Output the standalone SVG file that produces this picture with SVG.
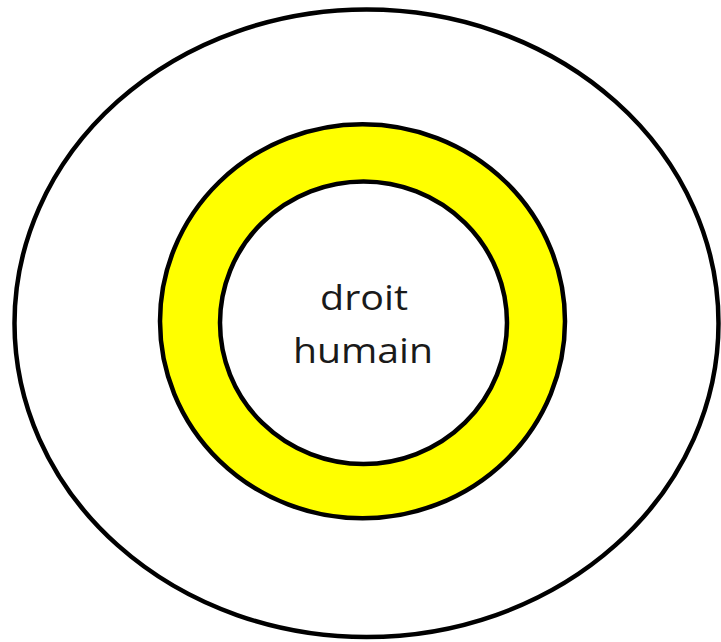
<svg xmlns="http://www.w3.org/2000/svg" width="721" height="642" viewBox="0 0 721 642">
<style>
.ring{stroke:#000;stroke-width:4.5}
.lbl{font-family:"Open Sans","Liberation Sans",sans-serif;font-size:34px;fill:#1a1a1a;text-anchor:middle}
</style>
<rect width="721" height="642" fill="#fff"/>
<g id="outer"><ellipse class="ring" cx="366.5" cy="323.3" rx="352" ry="313.8" fill="#fff"/></g>
<g id="middle"><ellipse class="ring" cx="362.5" cy="321.3" rx="202.5" ry="197" fill="#ffff00"/></g>
<g id="inner"><ellipse class="ring" cx="363.5" cy="322.8" rx="143.5" ry="141.3" fill="#fff"/>
<text class="lbl" x="364" y="310" textLength="88" lengthAdjust="spacingAndGlyphs">droit</text>
<text class="lbl" x="363" y="363" textLength="140" lengthAdjust="spacingAndGlyphs">humain</text>
</g>
<g id="connectors"/>
</svg>
